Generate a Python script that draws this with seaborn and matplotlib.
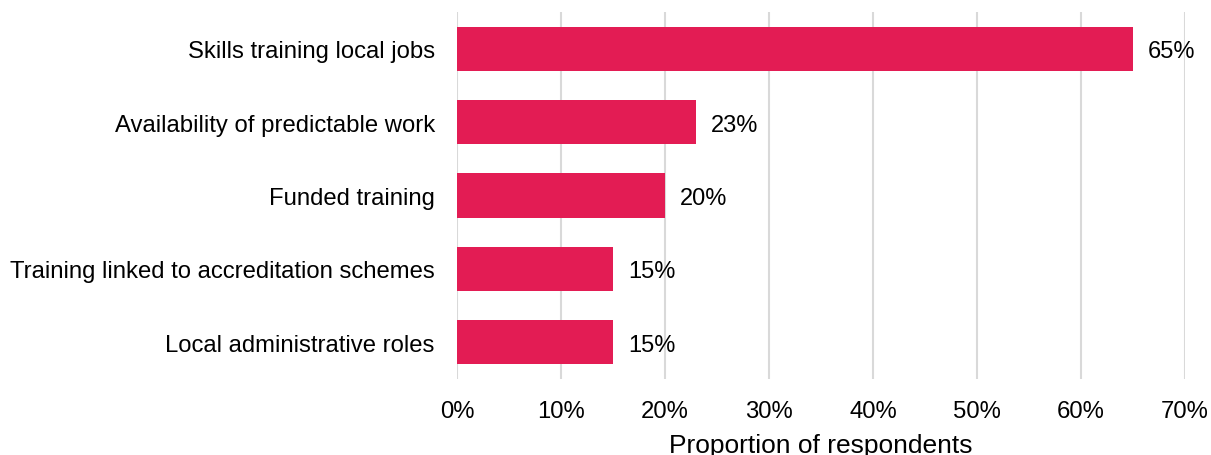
import matplotlib
matplotlib.use("Agg")
import matplotlib.pyplot as plt
import seaborn as sns
import pandas as pd
from matplotlib.ticker import FuncFormatter

categories = [
    "Skills training local jobs",
    "Availability of predictable work",
    "Funded training",
    "Training linked to accreditation schemes",
    "Local administrative roles",
]
values = [65, 23, 20, 15, 15]
xticks = [0, 10, 20, 30, 40, 50, 60, 70]

df = pd.DataFrame({"category": categories, "value": values})

sns.set_theme(style="white")
plt.rcParams["font.family"] = ["Liberation Sans", "DejaVu Sans"]

fig = plt.figure(figsize=(12.11, 4.56), dpi=100)
ax = fig.add_axes([457 / 1211, 1 - 380 / 456, (1185 - 457) / 1211, (380 - 13) / 456])

sns.barplot(data=df, x="value", y="category", color="#E31C54", saturation=1,
            width=0.6, linewidth=0, ax=ax, zorder=3)

for i, v in enumerate(values):
    ax.text(v + 1.45, i, f"{v}%", va="center_baseline", ha="left",
            fontsize=17, color="#000000")

ax.set_xlim(0, 70)
ax.set_ylim(4.5, -0.5)
ax.set_xticks(xticks)
ax.xaxis.set_major_formatter(FuncFormatter(lambda x, _: f"{x:.0f}%"))
ax.grid(axis="x", color="#d9d9d9", linewidth=1.5, zorder=0)
ax.grid(axis="y", visible=False)
for s in ax.spines.values():
    s.set_visible(False)
ax.tick_params(axis="both", length=0, labelsize=17.2, colors="#000000")
ax.tick_params(axis="y", pad=16)
ax.tick_params(axis="x", pad=15)
ax.set_ylabel("")
ax.set_xlabel("Proportion of respondents", fontsize=19, labelpad=8, color="#000000")

fig.savefig("out.png", dpi=100)
